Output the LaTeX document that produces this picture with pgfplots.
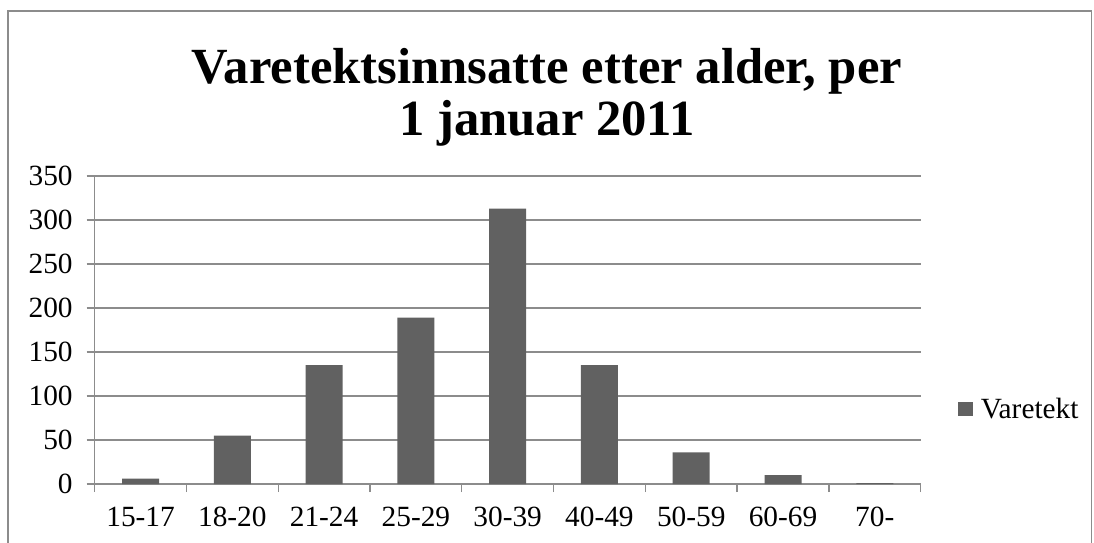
\documentclass[border=0pt]{standalone}
\usepackage{pgfplots}
\pgfplotsset{compat=1.18}
\usepackage{fontspec}
\setmainfont{Liberation Serif}
\definecolor{barc}{HTML}{616161}
\definecolor{gridc}{HTML}{8C8C8C}
\definecolor{framec}{HTML}{8C8C8C}
\begin{document}
\begin{tikzpicture}
\useasboundingbox (0,0) rectangle (820.5pt,406.5pt);
\draw[framec, line width=1pt] (6pt,-2pt) -- (6pt,398.25pt) -- (818.5pt,398.25pt) -- (818.5pt,-2pt);
\node[font=\fontsize{38}{38.5}\selectfont\bfseries, align=center, anchor=base] at (410.25pt,305pt) {Varetektsinnsatte etter alder, per\\1 januar 2011};
\begin{axis}[
  at={(71pt,43.5pt)}, anchor=south west,
  scale only axis, width=619.5pt, height=231pt,
  ymin=0, ymax=350, ytick={0,50,...,350},
  xmin=-0.5, xmax=8.5,
  xtick={0,...,8},
  xticklabels={15-17,18-20,21-24,25-29,30-39,40-49,50-59,60-69,70-},
  minor xtick={-0.5,0.5,...,8.5},
  major x tick style={draw=none},
  tick align=outside,
  minor tick length=6pt, major tick length=6pt,
  every tick/.style={gridc, line width=1pt},
  ymajorgrids, grid style={gridc, line width=1pt},
  axis x line*=bottom, axis y line*=left,
  axis line style={gridc, line width=1pt, -},
  ticklabel style={font=\fontsize{22}{26}\selectfont},
  yticklabel style={xshift=-7pt},
  xticklabel style={yshift=-7.5pt},
  /pgf/number format/assume math mode=true,
  ybar, bar width=27.75pt, bar shift=0pt,
  legend style={draw=none, at={(1.045,0.243)}, anchor=west, font=\fontsize{22}{26}\selectfont, inner sep=0pt, nodes={inner xsep=6pt}},
  legend image code/.code={\fill[barc] (0pt,-5.5pt) rectangle (11pt,5.5pt);},
  clip=false,
]
\addplot[fill=barc, draw=none] coordinates {(0,6) (1,55) (2,135) (3,189) (4,313) (5,135) (6,36) (7,10) (8,1)};
\addlegendentry{Varetekt}
\end{axis}
\end{tikzpicture}
\end{document}
